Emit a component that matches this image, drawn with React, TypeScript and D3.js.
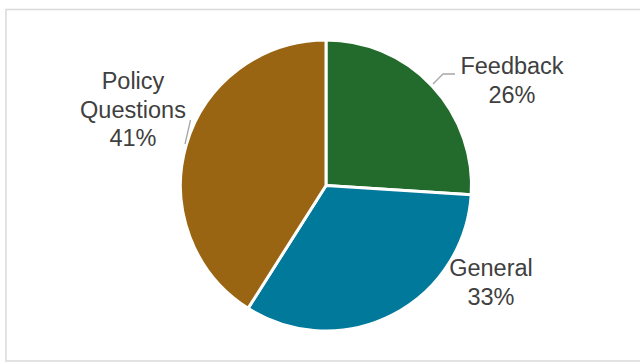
import React from "react";
import * as d3 from "d3";

const categories = ["Feedback", "General", "Policy Questions"];
const values = [26, 33, 41];
const labelLines = [["Feedback"], ["General"], ["Policy", "Questions"]];

const COLORS = ["#236B2C", "#00799A", "#9A6512"];
const W = 640;
const H = 362;
const CX = 326;
const CY = 185.5;
const R = 145.5;
// label anchor (center x, first baseline y) chosen to match reference layout
const LABEL_POS: [number, number][] = [
  [512, 74],
  [491, 276],
  [133, 89],
];
const LINE_H = 28.5;

export default function App() {
  const pie = d3
    .pie<number>()
    .sort(null)
    .startAngle(0)
    .endAngle(2 * Math.PI)
    .value((d) => d);
  const arcs = pie(values);
  const arc = d3.arc<d3.PieArcDatum<number>>().innerRadius(0).outerRadius(R);
  const total = d3.sum(values);

  return (
    <svg
      width={W}
      height={H}
      style={{ position: "fixed", left: 0, top: 0, display: "block", background: "#fff" }}
      fontFamily="'Liberation Sans', Arial, sans-serif"
    >
      <rect x={6} y={9.5} width={W} height={351.5} fill="#fff" stroke="#D9D9D9" strokeWidth={1.5} />
      <g transform={`translate(${CX},${CY})`}>
        {arcs.map((a, i) => (
          <path key={categories[i]} d={arc(a) || ""} fill={COLORS[i]} stroke="#fff" strokeWidth={3} strokeLinejoin="round" />
        ))}
      </g>
      {/* leader lines */}
      <polyline points="433,84 443,74 455,74" fill="none" stroke="#A6A6A6" strokeWidth={1.3} />
      <line x1={185} y1={144} x2={190.5} y2={120} stroke="#A6A6A6" strokeWidth={1.3} />
      {arcs.map((a, i) => {
        const [lx, ly] = LABEL_POS[i];
        const lines = [...labelLines[i], `${Math.round((a.data / total) * 100)}%`];
        return (
          <text key={categories[i]} x={lx} y={ly} textAnchor="middle" fontSize={23.5} fill="#404040">
            {lines.map((t, j) => (
              <tspan key={j} x={lx} y={ly + j * LINE_H}>
                {t}
              </tspan>
            ))}
          </text>
        );
      })}
    </svg>
  );
}
